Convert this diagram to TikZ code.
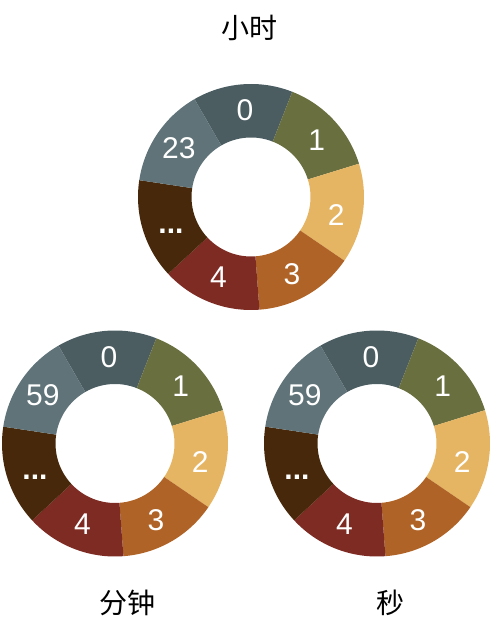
\documentclass[tikz,border=0pt]{standalone}
\usepackage{fontspec}
\setmainfont{Liberation Sans}
\newfontfamily\cjk{Noto Sans CJK SC}

\definecolor{segzero}{HTML}{4B5D61}
\definecolor{segone}{HTML}{6A6F3F}
\definecolor{segtwo}{HTML}{E6B563}
\definecolor{segthree}{HTML}{B06326}
\definecolor{segfour}{HTML}{7E2B23}
\definecolor{segdots}{HTML}{47280B}
\definecolor{seglast}{HTML}{5F7378}

\tikzset{
  digit/.style={text=white, font=\fontsize{30}{34}\selectfont, inner sep=0pt},
  title/.style={text=black, font=\cjk\fontsize{28}{32}\selectfont, inner sep=0pt}
}

\newcommand{\threedots}{\textbf{...}}

% #1,#2 centre, #3 name prefix, #4 last value
\newcommand{\clockring}[4]{%
  \begin{scope}[shift={(#1,#2)}]
  \foreach \lab/\col/\ang [count=\i] in {0/segzero/94, 1/segone/41, 2/segtwo/-12,
      3/segthree/-62, 4/segfour/-112, \threedots/segdots/-157, #4/seglast/146}{
    \pgfmathsetmacro\aa{120-51.4286*(\i-1)}
    \pgfmathsetmacro\ab{\aa-51.4286}
    \fill[\col] (\aa:59.5pt) -- (\aa:113pt)
      arc[start angle=\aa, end angle=\ab, radius=113pt] -- (\ab:59.5pt)
      arc[start angle=\ab, end angle=\aa, radius=59.5pt] -- cycle;
    \node[digit] (#3\i) at (\ang:87pt) {\lab};
  }
  \end{scope}}

\begin{document}
\begin{tikzpicture}[x=1pt,y=1pt]
\useasboundingbox (0,0) rectangle (491,628);

\clockring{251}{431}{hour}{23}
\clockring{115}{184.5}{minute}{59}
\clockring{377}{184.5}{second}{59}

\node[title] (hourtitle) at (249,600.5) {小时};
\node[title] (minutetitle) at (127,25.5) {分钟};
\node[title] (secondtitle) at (390,25.5) {秒};
\end{tikzpicture}
\end{document}
